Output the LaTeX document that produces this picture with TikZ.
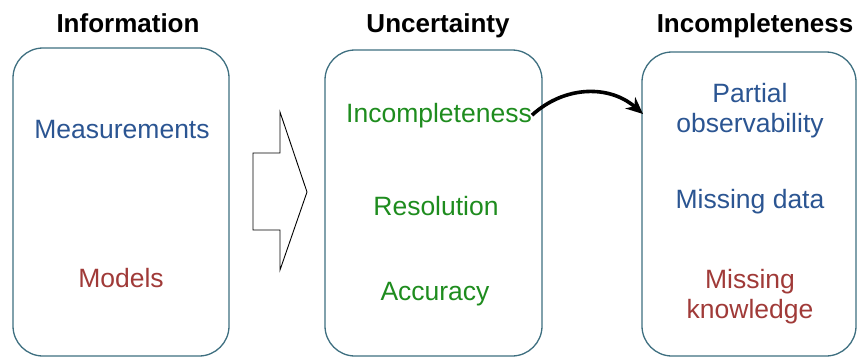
\documentclass[tikz,border=0pt]{standalone}
\usepackage{fontspec}
\setmainfont{Liberation Sans}
\usetikzlibrary{arrows.meta}
\definecolor{frame}{HTML}{3E6F80}
\definecolor{txtblue}{HTML}{2B5592}
\definecolor{txtred}{HTML}{A03A38}
\definecolor{txtgreen}{HTML}{1E8C1E}
\begin{document}
\begin{tikzpicture}[x=1pt,y=-1pt,
  panel/.style={draw=frame,line width=1.3pt,rounded corners=30pt,inner sep=0pt},
  heading/.style={font=\fontsize{26}{30}\selectfont\bfseries,anchor=base,inner sep=0pt},
  item/.style={font=\fontsize{26.5}{30}\selectfont,anchor=base,inner sep=0pt,align=center},
  link/.style={line width=3.6pt,-{Stealth[length=17pt,width=15pt]}}]
\useasboundingbox (0,0) rectangle (857,357);

% the three panels
\node[panel,minimum width=216pt,minimum height=308pt] (info) at (121,202) {};
\node[panel,minimum width=217pt,minimum height=306pt] (unc)  at (433.5,203) {};
\node[panel,minimum width=214pt,minimum height=304pt] (inc)  at (749,204) {};

% headings
\node[heading] (hinfo) at (128,32) {Information};
\node[heading] (hunc)  at (438,32) {Uncertainty};
\node[heading] (hinc)  at (755,32) {Incompleteness};

% information
\node[item,text=txtblue] (meas) at (122,138) {Measurements};
\node[item,text=txtred]  (mod)  at (121,287) {Models};

% uncertainty
\node[item,text=txtgreen] (uinc) at (439,122) {Incompleteness};
\node[item,text=txtgreen] (ures) at (436,215) {Resolution};
\node[item,text=txtgreen] (uacc) at (435,300) {Accuracy};

% incompleteness (base anchor sits on the last line)
\node[item,text=txtblue] (part) at (750,132) {Partial\\observability};
\node[item,text=txtblue] (miss) at (750,208) {Missing data};
\node[item,text=txtred]  (know) at (750,318) {Missing\\knowledge};

% block arrow between the first two panels
\draw[line width=0.9pt,line join=miter]
  (253,153) -- (280,153) -- (280,112) -- (307,192) -- (280,270)
  -- (280,230) -- (253,230) -- cycle;

% curved link into the last panel
\coordinate (target) at (643,114);
\draw[link] (uinc.east) .. controls (565,85) and (610,85) .. (target);
\end{tikzpicture}
\end{document}
